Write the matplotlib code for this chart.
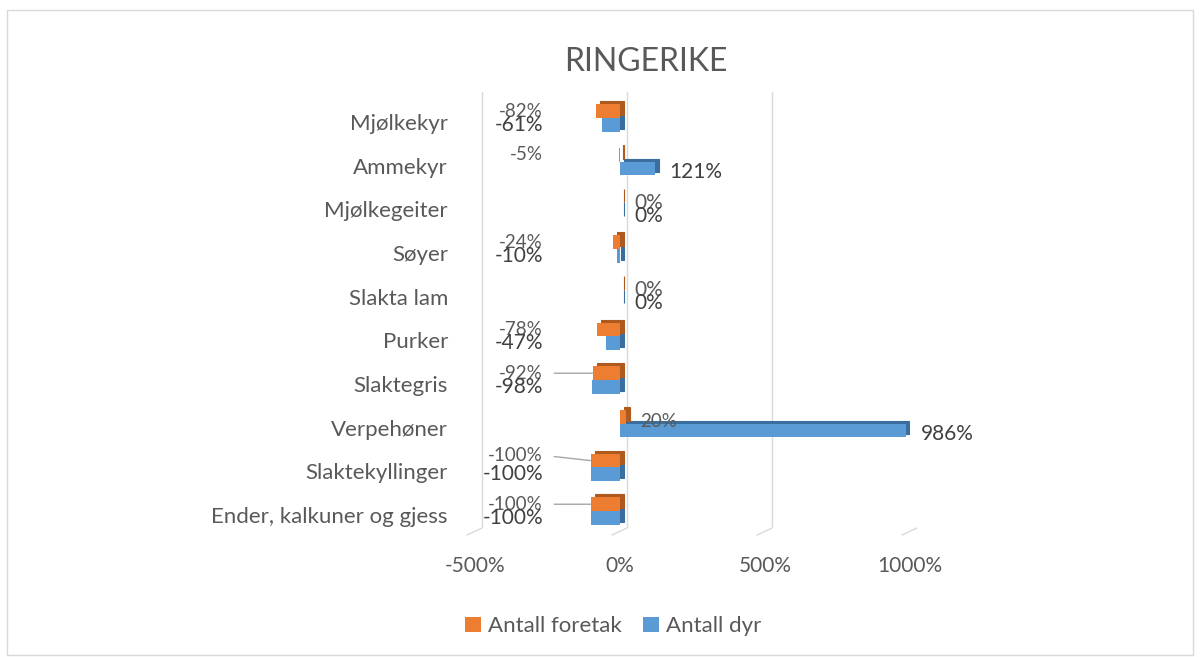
import matplotlib.pyplot as plt
from matplotlib.patches import Rectangle
from matplotlib.transforms import offset_copy, ScaledTranslation

# ------------- data -----------------
categories = ["Mjølkekyr", "Ammekyr", "Mjølkegeiter", "Søyer", "Slakta lam",
              "Purker", "Slaktegris", "Verpehøner", "Slaktekyllinger",
              "Ender, kalkuner og gjess"]
foretak = [-82, -5, 0, -24, 0, -78, -92, 20, -100, -100]
dyr = [-61, 121, 0, -10, 0, -47, -98, 986, -100, -100]
xticks = [-500, 0, 500, 1000]
# labels that Excel drew with a leader line
leader = ["Slaktegris", "Slaktekyllinger", "Ender, kalkuner og gjess"]
# ------------------------------------

plt.rcParams['font.family'] = ['Lato', 'DejaVu Sans']

orange = "#ED7D31"
orange_dark = "#AE5A1F"
blue = "#5B9BD5"
blue_dark = "#3A6E9E"
txt = "#595959"

fig = plt.figure(figsize=(12, 6.57), dpi=100)
fig.patches.append(Rectangle((0.006, 0.003), 0.988, 0.982, transform=fig.transFigure,
                             fill=False, edgecolor="#D9D9D9", linewidth=1))

ax = fig.add_axes([0.3958, 0.1963, 0.3625, 0.6637])
n = len(categories)
ypos = [n - 1 - i for i in range(n)]
h = 0.31

# 3D-ish depth: darker copy shifted up/right behind the front face
depth = offset_copy(ax.transData, fig=fig, x=4, y=3, units='dots')
ax.barh([y - h / 2 for y in ypos], dyr, height=h, color=blue_dark,
        edgecolor=blue_dark, linewidth=0.8, transform=depth, zorder=2)
ax.barh([y - h / 2 for y in ypos], dyr, height=h, color=blue, zorder=3,
        label="Antall dyr")
ax.barh([y + h / 2 for y in ypos], foretak, height=h, color=orange_dark,
        edgecolor=orange_dark, linewidth=0.8, transform=depth, zorder=4)
ax.barh([y + h / 2 for y in ypos], foretak, height=h, color=orange, zorder=5,
        label="Antall foretak")

# gridlines on the back wall, with a short floor stroke
back = offset_copy(ax.get_xaxis_transform(), fig=fig, x=7, y=0, units='dots')
floor = offset_copy(ax.get_xaxis_transform(), fig=fig, x=-8, y=-7, units='dots')
for t in xticks:
    ax.plot([t, t], [0.0, 1.0], color="#D9D9D9", linewidth=1, transform=back, zorder=0)
    ax.annotate("", xy=(t, 0), xycoords=floor, xytext=(t, 0), textcoords=back,
                arrowprops=dict(arrowstyle="-", color="#D9D9D9", linewidth=1,
                                shrinkA=0, shrinkB=0))

neg_x = -265
for cat, y, f, d in zip(categories, ypos, foretak, dyr):
    yo = y + h / 2
    yb = y - h / 2
    if f < 0:
        ly = yo + 0.12 if cat == "Slaktekyllinger" else yo
        if cat in leader:
            ax.annotate(f"{f}%", xy=(f - 2, yo), xytext=(neg_x, ly),
                        ha="right", va="center", fontsize=13.5, color=txt, zorder=6,
                        arrowprops=dict(arrowstyle="-", color="#A6A6A6", linewidth=1,
                                        relpos=(1, 0.5), shrinkA=6, shrinkB=0))
        else:
            ax.text(neg_x, ly, f"{f}%", ha="right", va="center",
                    fontsize=13.5, color=txt, zorder=6)
    else:
        ax.text(f + 50, yo - 0.1, f"{f}%", ha="left", va="center",
                fontsize=13.5 if f else 15, color=txt, zorder=6)
    if d < 0:
        ax.text(neg_x, yb, f"{d}%", ha="right", va="center",
                fontsize=15, color="#404040", zorder=6)
    else:
        ax.text(d + 50, yb - 0.08, f"{d}%", ha="left", va="center",
                fontsize=15, color="#404040", zorder=6)

ax.set_xlim(-500, 1000)
ax.set_ylim(-0.39, 9.595)
ax.set_xticks(xticks)
ax.set_xticklabels([f"{t}%" for t in xticks])
ax.set_yticks(ypos)
ax.set_yticklabels(categories)
ax.tick_params(axis="x", length=0, pad=20, labelsize=15, labelcolor=txt)
ax.tick_params(axis="y", length=0, pad=19.5, labelsize=16, labelcolor=txt)
down = ScaledTranslation(0, -4 / 100, fig.dpi_scale_trans)
for lab in ax.get_yticklabels():
    lab.set_transform(lab.get_transform() + down)
for s in ax.spines.values():
    s.set_visible(False)

fig.text(0.5385, 0.905, "RINGERIKE", ha="center", va="center", fontsize=23, color=txt)

handles, labels = ax.get_legend_handles_labels()
fig.legend(handles[::-1], labels[::-1], loc="center", bbox_to_anchor=(0.511, 0.047), ncol=2,
           frameon=False, fontsize=16, labelcolor=txt, handlelength=0.7,
           handleheight=0.7, handletextpad=0.3, columnspacing=1.0)

fig.savefig("out.png", dpi=100)
